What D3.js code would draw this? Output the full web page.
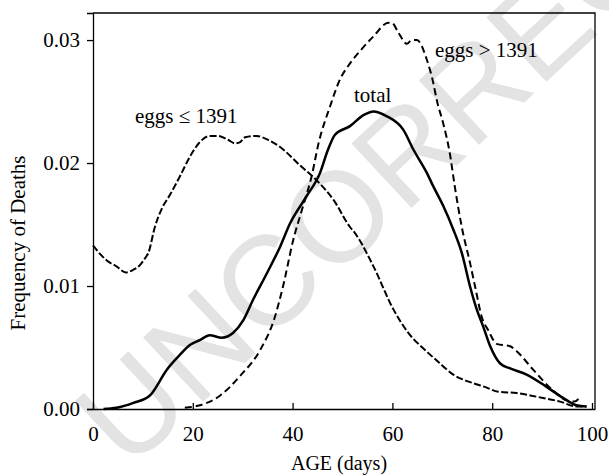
<!DOCTYPE html>
<html>
<head>
<meta charset="utf-8">
<script src="https://cdn.jsdelivr.net/npm/d3@7"></script>
<style>
  body { margin: 0; background: #fff; }
</style>
</head>
<body>
<svg id="chart" width="609" height="476"></svg>
<script>
// age (days) and frequency of deaths
let lowAges = [0, 1, 2.7, 4.7, 6.6, 8, 9.4, 10.5, 11.1, 12.4, 13.8, 15.4, 17.4, 19.4, 21.4, 23.4, 25.1, 27, 28.5, 29.5, 30.5, 32.8, 35, 37.5, 41.5, 44.8, 48.2, 51.5, 52.5, 56.2, 60.2, 64.2, 66, 69, 72.2, 76.2, 78.5, 81.2, 84.9, 88.9, 93.6, 96.9, 98.9];
let lowFreq = [0.0133, 0.0128, 0.0121, 0.0116, 0.0111, 0.0113, 0.0117, 0.0123, 0.0127, 0.0148, 0.0163, 0.0174, 0.0189, 0.0205, 0.0217, 0.0222, 0.0222, 0.0219, 0.0216, 0.0217, 0.0221, 0.0222, 0.0219, 0.0213, 0.0198, 0.0186, 0.0170, 0.0148, 0.0143, 0.0116, 0.0081, 0.0057, 0.0050, 0.0039, 0.0028, 0.0021, 0.0018, 0.0014, 0.0013, 0.0010, 0.0006, 0.0002, 0.0002];

let highAges = [18.4, 21.4, 25.5, 29.5, 33.5, 36.3, 38.1, 40.1, 42.1, 43.8, 45.2, 47.5, 49.5, 51.5, 53.5, 56.2, 59.2, 59.9, 61.2, 62.9, 63.9, 64.9, 66.9, 68.2, 68.9, 70.2, 71.5, 72.5, 73.9, 75.6, 76.6, 77.9, 79.2, 80.9, 83.6, 84.9, 88.2, 92.2, 94.9, 96.5, 97.6];
let highFreq = [0.0001, 0.0003, 0.0011, 0.0027, 0.0048, 0.0073, 0.0100, 0.0137, 0.0165, 0.0189, 0.0216, 0.0246, 0.0268, 0.0281, 0.0291, 0.0303, 0.0314, 0.0314, 0.0306, 0.0297, 0.0300, 0.0300, 0.0284, 0.0265, 0.0251, 0.0232, 0.0208, 0.0181, 0.0148, 0.0118, 0.0099, 0.0075, 0.0064, 0.0053, 0.0051, 0.0047, 0.0032, 0.0015, 0.0007, 0.0006, 0.0010];

let totalAges = [2.1, 4.7, 8.1, 11.4, 14.8, 17.4, 19.4, 21.4, 23.4, 25.8, 28.1, 30.1, 32.1, 34.8, 37.5, 39.5, 42.8, 45.5, 47.1, 48.5, 51.5, 54.2, 56.2, 58.9, 62.2, 64.2, 66.9, 68.2, 70.2, 72.2, 73.9, 75.6, 76.9, 78.2, 79.6, 81.6, 83.6, 86.9, 90.9, 94.2, 96.9, 98.9];
let totalFreq = [0, 0.0001, 0.0005, 0.0011, 0.0032, 0.0044, 0.0052, 0.0056, 0.0060, 0.0058, 0.0062, 0.0072, 0.0089, 0.0110, 0.0132, 0.0151, 0.0173, 0.0192, 0.0211, 0.0223, 0.0230, 0.0239, 0.0242, 0.0238, 0.0227, 0.0211, 0.0192, 0.0181, 0.0165, 0.0146, 0.0127, 0.0099, 0.0081, 0.0067, 0.0051, 0.0037, 0.0033, 0.0028, 0.0018, 0.0009, 0.0003, 0.0002];

let xTicks = [0, 20, 40, 60, 80, 100];
let yTicks = [0, 0.01, 0.02, 0.03];

let serif = "'Liberation Serif', 'Times New Roman', serif";

let svg = d3.select('#chart');
let margin = {top: 13, left: 93, bottom: 67, right: 14};
let width = 609, height = 476;

// watermark, behind everything
svg.append("text")
    .attr("transform", "translate(128,472) rotate(-43)")
    .style("font-family", "'Liberation Sans', Arial, sans-serif")
    .style("font-size", "128px")
    .attr("fill", "#e3e3e3")
    .text("UNCORRECTED PROOF");

let x = d3.scaleLinear().domain([0, 100.6]).range([margin.left, width - margin.right]);
let y = d3.scaleLinear().domain([0, 0.0322]).range([height - margin.bottom, margin.top]);

let xAxis = d3.axisBottom(x).tickValues(xTicks).tickFormat(d3.format("d"))
    .tickSizeInner(-6).tickSizeOuter(0).tickPadding(17);
let yAxis = d3.axisLeft(y).tickValues(yTicks).tickFormat(d3.format(".2f"))
    .tickSizeInner(6).tickSizeOuter(6).tickPadding(7);

let gx = svg.append("g")
    .attr("transform", "translate(0," + y(0) + ")")
    .call(xAxis);
let gy = svg.append("g")
    .attr("transform", "translate(" + margin.left + ",0)")
    .call(yAxis);

[gx, gy].forEach(g => {
    g.attr("font-family", serif).attr("font-size", 21);
    g.selectAll("text").attr("fill", "#000");
    g.selectAll("line, path").attr("stroke", "#000").attr("stroke-width", 1.3);
});

// top and right frame
svg.append("path")
    .attr("d", "M" + x.range()[0] + "," + y.range()[1] + "H" + x.range()[1] + "V" + y.range()[0])
    .attr("fill", "none").attr("stroke", "#000").attr("stroke-width", 1.3);

let line = d3.line()
    .x(d => x(d[0]))
    .y(d => y(d[1]))
    .curve(d3.curveMonotoneX);

let series = [
    {ages: lowAges, freq: lowFreq, dash: "7,2.5", w: 2},
    {ages: highAges, freq: highFreq, dash: "7,4", w: 2},
    {ages: totalAges, freq: totalFreq, dash: null, w: 2.5}
];

series.forEach(s => {
    svg.append("path")
        .datum(s.ages.map((a, i) => [a, s.freq[i]]))
        .attr("d", line)
        .attr("fill", "none")
        .attr("stroke", "#000")
        .attr("stroke-width", s.w)
        .attr("stroke-dasharray", s.dash);
});

// curve labels
let labels = [
    {t: "eggs \u2264 1391", x: 135, y: 123},
    {t: "eggs > 1391", x: 435, y: 57},
    {t: "total", x: 354, y: 102}
];
svg.selectAll("text.lab")
    .data(labels)
    .enter()
    .append("text")
    .attr("class", "lab")
    .attr("x", d => d.x)
    .attr("y", d => d.y)
    .attr("font-family", serif)
    .attr("font-size", 21)
    .text(d => d.t);

// axis titles
svg.append("text")
    .attr("transform", "translate(339,470)")
    .attr("text-anchor", "middle")
    .attr("font-family", serif)
    .attr("font-size", 20)
    .text("AGE (days)");

svg.append("text")
    .attr("transform", "translate(25,243) rotate(-90)")
    .attr("text-anchor", "middle")
    .attr("font-family", serif)
    .attr("font-size", 21)
    .text("Frequency of Deaths");
</script>
</body>
</html>
